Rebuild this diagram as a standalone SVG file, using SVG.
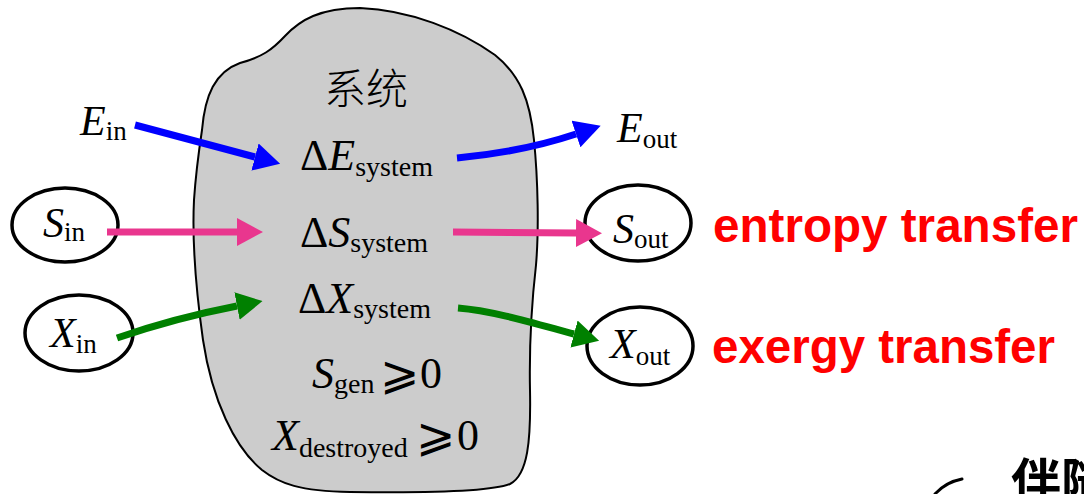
<svg xmlns="http://www.w3.org/2000/svg" width="1084" height="494" viewBox="0 0 1084 494">
<style>
.serif{font-family:"Liberation Serif","Times New Roman",serif;fill:#000}
.it{font-style:italic}
.big{font-size:44px}
.lab{font-size:42px}
.sub{font-size:28px}
.lsub{font-size:27px}
.node{fill:#fff;fill-opacity:0;stroke:#000;stroke-width:3.5}
.red{font-family:"Liberation Sans",Arial,sans-serif;font-weight:bold;font-size:48px;fill:#ff0000}
.conn{fill:none;stroke-width:7;stroke-linecap:butt}
.cjk{font-family:"Noto Sans CJK SC","Noto Sans CJK JP",sans-serif}
.geq{font-family:"DejaVu Sans",sans-serif;font-weight:200;font-size:47px;fill:#000}
</style>
<defs>
<marker id="hb" markerUnits="userSpaceOnUse" markerWidth="26" markerHeight="28" viewBox="0 0 26 28" refX="0" refY="14" orient="auto"><path d="M0,0 L26,14 L0,28 Z" fill="#0000ff"/></marker>
<marker id="hp" markerUnits="userSpaceOnUse" markerWidth="26" markerHeight="28" viewBox="0 0 26 28" refX="0" refY="14" orient="auto"><path d="M0,0 L26,14 L0,28 Z" fill="#e9368e"/></marker>
<marker id="hg" markerUnits="userSpaceOnUse" markerWidth="26" markerHeight="28" viewBox="0 0 26 28" refX="0" refY="14" orient="auto"><path d="M0,0 L26,14 L0,28 Z" fill="#008000"/></marker>
</defs>
<rect width="1084" height="494" fill="#fff"/>
<g id="system">
<path d="M202,130 C205,95 215,72 240,63 C262,57 272,50 285,36 C300,20 320,8 360,8 C410,10 460,30 495,55 C520,75 530,100 534,140 C538,180 539,230 536,265 C532,300 529,340 530,390 C531,440 528,475 510,484 C490,492 420,493 350,492 C300,491 280,484 262,470 C235,448 212,400 203,340 C196,290 192,240 194,200 C196,170 199,150 202,130 Z" fill="#cccccc" stroke="#000" stroke-width="2"/>
<text class="cjk" x="366" y="104" font-size="42" font-weight="300" text-anchor="middle" fill="#000">系统</text>
<text class="serif big" x="300" y="170">Δ<tspan class="it">E</tspan><tspan class="sub" dy="6">system</tspan></text>
<text class="serif big" x="300" y="247">Δ<tspan class="it">S</tspan><tspan class="sub" dy="5">system</tspan></text>
<text class="serif big" x="298" y="313">Δ<tspan class="it">X</tspan><tspan class="sub" dy="5">system</tspan></text>
<text class="serif big" x="312" y="388"><tspan class="it">S</tspan><tspan class="sub" dy="5">gen</tspan></text>
<text class="geq" x="380" y="389">⩾</text>
<text class="serif big" x="420" y="388">0</text>
<text class="serif big" x="272" y="450"><tspan class="it">X</tspan><tspan class="sub" dy="7">destroyed</tspan></text>
<text class="geq" x="416" y="451">⩾</text>
<text class="serif big" x="457" y="450">0</text>
</g>
<g id="E_in"><text class="serif lab" x="80" y="135"><tspan class="it">E</tspan><tspan class="lsub" dy="5">in</tspan></text></g>
<g id="S_in"><ellipse class="node" cx="65" cy="225" rx="53" ry="37"/><text class="serif lab" x="43" y="237"><tspan class="it">S</tspan><tspan class="lsub" dy="4">in</tspan></text></g>
<g id="X_in"><ellipse class="node" cx="79" cy="333" rx="54" ry="38"/><text class="serif lab" x="50" y="347"><tspan class="it">X</tspan><tspan class="lsub" dy="6">in</tspan></text></g>
<g id="E_out"><text class="serif lab" x="617" y="142"><tspan class="it">E</tspan><tspan class="lsub" dy="6">out</tspan></text></g>
<g id="S_out"><ellipse class="node" cx="638" cy="223" rx="53" ry="38"/><text class="serif lab" x="613" y="243"><tspan class="it">S</tspan><tspan class="lsub" dy="5">out</tspan></text></g>
<g id="X_out"><ellipse class="node" cx="640" cy="346" rx="53" ry="39"/><text class="serif lab" x="610" y="358"><tspan class="it">X</tspan><tspan class="lsub" dy="7">out</tspan></text></g>
<g id="connectors">
<path class="conn" d="M135,125 L255,157" stroke="#0000ff" marker-end="url(#hb)"/>
<path class="conn" d="M107,232 L237,232" stroke="#e9368e" marker-end="url(#hp)"/>
<path class="conn" d="M117,338 Q175,318 237,306" stroke="#008000" marker-end="url(#hg)"/>
<path class="conn" d="M457,158 C500,154 540,146 576,134" stroke="#0000ff" marker-end="url(#hb)"/>
<path class="conn" d="M453,232 L576,233" stroke="#e9368e" marker-end="url(#hp)"/>
<path class="conn" d="M458,308 C495,311 540,325 574,334" stroke="#008000" marker-end="url(#hg)"/>
</g>
<g id="labels">
<text class="red" x="713" y="242" textLength="365" lengthAdjust="spacingAndGlyphs">entropy transfer</text>
<text class="red" x="712" y="363" textLength="343" lengthAdjust="spacingAndGlyphs">exergy transfer</text>
<path d="M935,494 Q946,482 962,479" fill="none" stroke="#000" stroke-width="3" stroke-linecap="round"/>
<text class="cjk" x="1011" y="500" font-size="50" font-weight="bold" fill="#000">伴随</text>
</g>
</svg>
